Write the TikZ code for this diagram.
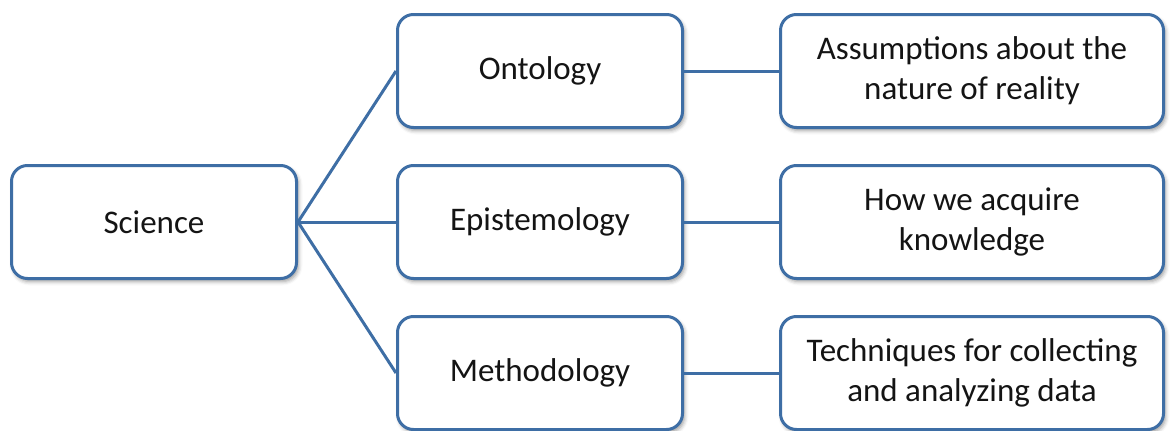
\documentclass[tikz,border=0pt]{standalone}
\usepackage{fontspec}
\setmainfont{Carlito}
\usetikzlibrary{shadows.blur}
\definecolor{edgeblue}{RGB}{62,110,165}
\definecolor{inkgray}{RGB}{20,20,20}
\begin{document}
\begin{tikzpicture}[x=1pt,y=-1pt,
  box/.style={draw=edgeblue, line width=3pt, rounded corners=16pt, fill=white,
    minimum height=113pt, inner sep=0pt, align=center,
    font=\fontsize{33}{40}\selectfont, text=inkgray,
    blur shadow={shadow xshift=2pt, shadow yshift=-3pt, shadow blur radius=4pt, shadow opacity=40}},
  midbox/.style={box, minimum width=285pt},
  widebox/.style={box, minimum width=383pt},
  link/.style={draw=edgeblue, line width=3pt}]
\useasboundingbox (0,0) rectangle (1170,431);

% root
\node[midbox] (sci) at (154,222) {Science};

% branches
\node[midbox] (ont) at (540,71)  {Ontology};
\node[midbox] (epi) at (540,222) {Epistemology};
\node[midbox] (met) at (540,373) {Methodology};

% descriptions
\node[widebox] (ontd) at (972,71)  {Assumptions about the\\nature of reality};
\node[widebox] (epid) at (972,222) {How we acquire\\knowledge};
\node[widebox] (metd) at (972,373) {Techniques for collecting\\and analyzing data};

% connectors
\draw[link] (sci.east) -- (ont.west);
\draw[link] (sci.east) -- (epi.west);
\draw[link] (sci.east) -- (met.west);
\draw[link] (ont.east) -- (ontd.west);
\draw[link] (epi.east) -- (epid.west);
\draw[link] (met.east) -- (metd.west);
\end{tikzpicture}
\end{document}
